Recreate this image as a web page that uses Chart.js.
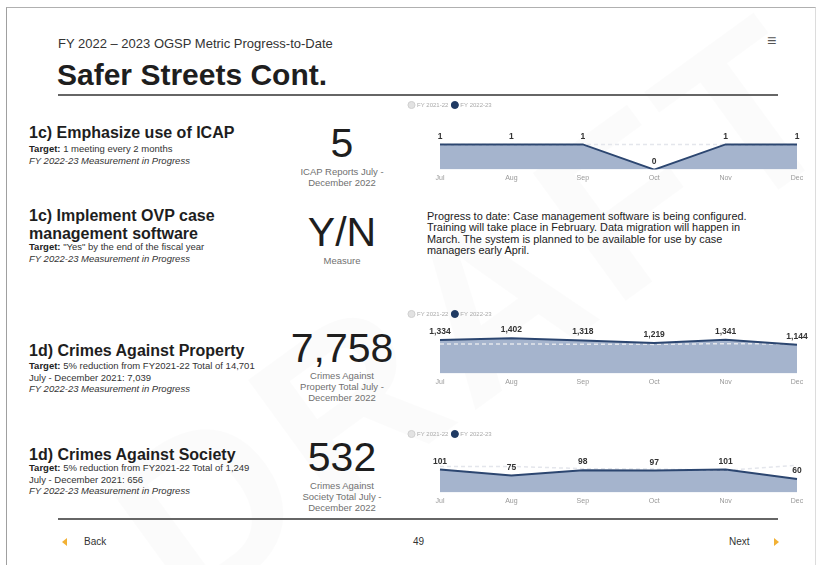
<!DOCTYPE html>
<html>
<head>
<meta charset="utf-8">
<script src="https://cdn.jsdelivr.net/npm/chart.js@4.4.1/dist/chart.umd.min.js"></script>
<style>
  html, body { margin: 0; padding: 0; background: #fff; }
  body { width: 819px; height: 565px; position: relative; overflow: hidden; font-family: "Liberation Sans", Arial, sans-serif; color: #222; }
  .abs { position: absolute; white-space: nowrap; }
  .frame { position: absolute; left: 6px; top: 7px; width: 808px; height: 600px; border-left: 1px solid #a0a0a0; border-top: 1px solid #b0b0b0; border-right: 1px solid #dcdcdc; }
  .rule { position: absolute; left: 58px; width: 720px; height: 2px; background: #666; }
  .head { font-weight: bold; font-size: 16px; line-height: 18px; color: #1e1e1e; }
  .sub { font-size: 9.5px; line-height: 11.5px; color: #333; }
  .sub b { color: #222; }
  .big { width: 120px; left: 282px; text-align: center; font-size: 41px; line-height: 41px; color: #1e1e1e; }
  .cap { width: 120px; left: 282px; text-align: center; font-size: 9.5px; line-height: 11px; color: #707070; }
  .chartbox { position: absolute; left: 405px; width: 410px; }
  .watermark { position: absolute; left: 60px; top: 180px; font-size: 230px; font-weight: bold; color: rgba(0,0,0,0.014); transform: rotate(-36deg); transform-origin: 50% 50%; letter-spacing: 10px; }
  .tri-l { position: absolute; width: 0; height: 0; border-top: 4px solid transparent; border-bottom: 4px solid transparent; border-right: 5px solid #f2b134; }
  .tri-r { position: absolute; width: 0; height: 0; border-top: 4px solid transparent; border-bottom: 4px solid transparent; border-left: 5px solid #f2b134; }
</style>
</head>
<body>
<div class="watermark">DRAFT</div>
<div class="frame"></div>

<div class="abs" style="left:58px;top:36px;font-size:13px;line-height:16px;color:#333">FY 2022 – 2023 OGSP Metric Progress-to-Date</div>
<div class="abs" style="left:767px;top:32px;font-size:16px;line-height:18px;color:#555">≡</div>
<div class="abs" style="left:57px;top:58px;font-size:30px;line-height:34px;font-weight:bold;color:#1e1e1e">Safer Streets Cont.</div>
<div class="rule" style="top:94px"></div>

<!-- row 1 -->
<div class="abs head" style="left:29px;top:124px">1c) Emphasize use of ICAP</div>
<div class="abs sub" style="left:29px;top:143px"><b>Target:</b> 1 meeting every 2 months<br><i>FY 2022-23 Measurement in Progress</i></div>
<div class="abs big" style="top:123px">5</div>
<div class="abs cap" style="top:166px">ICAP Reports July -<br>December 2022</div>

<!-- row 2 -->
<div class="abs head" style="left:29px;top:207px">1c) Implement OVP case<br>management software</div>
<div class="abs sub" style="left:29px;top:241px"><b>Target:</b> "Yes" by the end of the fiscal year<br><i>FY 2022-23 Measurement in Progress</i></div>
<div class="abs big" style="top:212px">Y/N</div>
<div class="abs cap" style="top:255px">Measure</div>
<div class="abs" style="left:427px;top:211px;font-size:10.9px;line-height:11.4px;color:#222">Progress to date: Case management software is being configured.<br>Training will take place in February. Data migration will happen in<br>March. The system is planned to be available for use by case<br>managers early April.</div>

<!-- row 3 -->
<div class="abs head" style="left:29px;top:342px">1d) Crimes Against Property</div>
<div class="abs sub" style="left:29px;top:360px"><b>Target:</b> 5% reduction from FY2021-22 Total of 14,701<br>July - December 2021: 7,039<br><i>FY 2022-23 Measurement in Progress</i></div>
<div class="abs big" style="top:328px">7,758</div>
<div class="abs cap" style="top:370px">Crimes Against<br>Property Total July -<br>December 2022</div>

<!-- row 4 -->
<div class="abs head" style="left:29px;top:446px">1d) Crimes Against Society</div>
<div class="abs sub" style="left:29px;top:462px"><b>Target:</b> 5% reduction from FY2021-22 Total of 1,249<br>July - December 2021: 656<br><i>FY 2022-23 Measurement in Progress</i></div>
<div class="abs big" style="top:437px">532</div>
<div class="abs cap" style="top:480px">Crimes Against<br>Society Total July -<br>December 2022</div>

<div class="chartbox" style="top:98px;height:88px"><canvas id="icapChart"></canvas></div>
<div class="chartbox" style="top:307px;height:83px"><canvas id="propertyChart"></canvas></div>
<div class="chartbox" style="top:427px;height:82px"><canvas id="societyChart"></canvas></div>

<div class="rule" style="top:518px"></div>
<div class="tri-l" style="left:62px;top:538px"></div>
<div class="abs" style="left:84px;top:536px;font-size:10px;line-height:12px;color:#333">Back</div>
<div class="abs" style="left:413px;top:536px;font-size:10px;line-height:12px;color:#333">49</div>
<div class="abs" style="left:729px;top:536px;font-size:10px;line-height:12px;color:#333">Next</div>
<div class="tri-r" style="left:774px;top:538px"></div>

<script>
const months = ["Jul", "Aug", "Sep", "Oct", "Nov", "Dec"];
const seriesNames = ["FY 2021-22", "FY 2022-23"];

const icapPrev = [1, 1, 1, 1, 1, 1];
const icapCurr = [1, 1, 1, 0, 1, 1];

const propertyPrev = [1180, 1175, 1165, 1160, 1190, 1169];
const propertyCurr = [1334, 1402, 1318, 1219, 1341, 1144];

const societyPrev = [115, 115, 105, 103, 98, 120];
const societyCurr = [101, 75, 98, 97, 101, 60];

const navy = "#2c4670";
const areaFill = "#a5b4cd";
const prevLine = "#e4e6ec";

// value labels above the FY 2022-23 line
const valueLabels = {
  id: "valueLabels",
  afterDatasetsDraw(chart) {
    const meta = chart.getDatasetMeta(1);
    const data = chart.data.datasets[1].data;
    const ctx = chart.ctx;
    ctx.save();
    ctx.font = 'bold 8.5px "Liberation Sans", Arial, sans-serif';
    ctx.fillStyle = "#333";
    ctx.textAlign = "center";
    ctx.textBaseline = "bottom";
    meta.data.forEach((pt, i) => {
      ctx.fillText(data[i].toLocaleString("en-US"), pt.x, pt.y - 4);
    });
    ctx.restore();
  }
};

function makeChart(id, prev, curr, yMax) {
  const ctx = document.getElementById(id).getContext("2d");
  return new Chart(ctx, {
    type: "line",
    data: {
      labels: months,
      datasets: [
        {
          label: seriesNames[0],
          data: prev,
          borderColor: prevLine,
          borderWidth: 1.5,
          borderDash: [4, 3],
          pointRadius: 0,
          fill: false,
          tension: 0,
          order: 1
        },
        {
          label: seriesNames[1],
          data: curr,
          borderColor: navy,
          backgroundColor: areaFill,
          borderWidth: 2,
          pointRadius: 0,
          fill: "origin",
          tension: 0,
          order: 0
        }
      ]
    },
    options: {
      responsive: true,
      maintainAspectRatio: false,
      animation: false,
      layout: { padding: { left: 0, right: 18, top: 0, bottom: 0 } },
      scales: {
        x: {
          grid: { display: false, drawTicks: false },
          border: { display: false },
          ticks: { color: "#999", font: { size: 7 }, padding: 4, maxRotation: 0, autoSkip: false }
        },
        y: {
          min: 0,
          max: yMax,
          grid: { display: false, drawTicks: false },
          border: { display: false },
          ticks: { display: false },
          afterFit: (scale) => { scale.width = 35; }
        }
      },
      plugins: {
        filler: { drawTime: "beforeDatasetsDraw" },
        tooltip: { enabled: false },
        legend: {
          position: "top",
          align: "start",
          labels: {
            usePointStyle: true,
            boxWidth: 5,
            boxHeight: 5,
            padding: 4,
            color: "#aaa",
            font: { size: 6 },
            generateLabels: () => seriesNames.map((name, i) => ({
              text: name,
              fillStyle: i === 0 ? "#e2e2e2" : "#1f3a63",
              strokeStyle: i === 0 ? "#cfcfcf" : "#1f3a63",
              lineWidth: 1,
              pointStyle: "circle",
              fontColor: "#aaa",
              datasetIndex: i
            }))
          }
        }
      }
    },
    plugins: [valueLabels]
  });
}

makeChart("icapChart", icapPrev, icapCurr, 2.05);
makeChart("propertyChart", propertyPrev, propertyCurr, 1850);
makeChart("societyChart", societyPrev, societyCurr, 200);
</script>
</body>
</html>
